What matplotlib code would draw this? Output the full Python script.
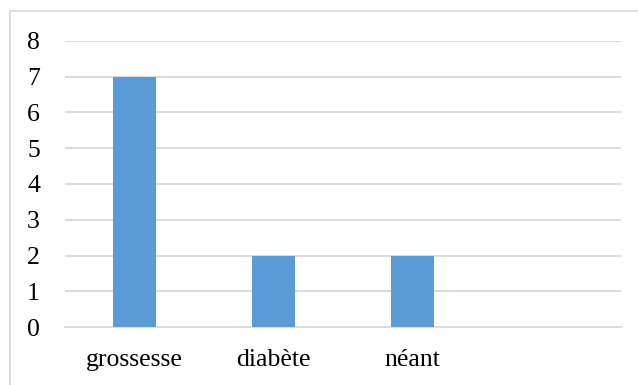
import matplotlib.pyplot as plt
from matplotlib.patches import Rectangle

categories = ["grossesse", "diabète", "néant", ""]
values = [7, 2, 2]
yticks = [0, 1, 2, 3, 4, 5, 6, 7, 8]

plt.rcParams['font.family'] = ['Liberation Serif', 'DejaVu Serif']

fig = plt.figure(figsize=(6.38, 3.85), dpi=100)
W, H = 638, 385

# chart frame
fig.patches.append(Rectangle((10 / W, -0.05), 1.0, 1 - 11 / H + 0.05,
                             transform=fig.transFigure, fill=False,
                             edgecolor='#d9d9d9', linewidth=1.2))

ax = fig.add_axes([65 / W, 1 - 327 / H, (621 - 65) / W, (327 - 41) / H])
x = range(len(categories))
ax.bar(list(x)[:len(values)], values, width=0.31, color='#5b9bd5', zorder=3)

ax.set_xlim(-0.5, len(categories) - 0.5)
ax.set_ylim(0, 8)
ax.set_yticks(yticks)
ax.set_xticks(list(x))
ax.set_xticklabels(categories)
ax.yaxis.grid(True, color='#d9d9d9', linewidth=1.3, zorder=0)
ax.set_axisbelow(True)
for s in ['top', 'right', 'left']:
    ax.spines[s].set_visible(False)
ax.spines['bottom'].set_color('#d9d9d9')
ax.spines['bottom'].set_linewidth(1.3)
ax.tick_params(axis='both', length=0, labelsize=18.5, colors='black')
ax.tick_params(axis='y', pad=18)
ax.tick_params(axis='x', pad=16)

fig.savefig('out.png', dpi=100)
